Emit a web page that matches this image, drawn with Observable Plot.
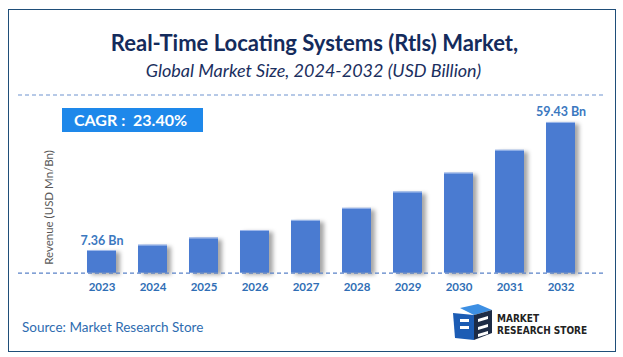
<!DOCTYPE html>
<html><head><meta charset="utf-8">
<script src="https://cdn.jsdelivr.net/npm/d3@7"></script>
<script src="https://cdn.jsdelivr.net/npm/@observablehq/plot@0.6"></script>
<style>
body{margin:0;background:#fff;font-family:Lato,"Open Sans",sans-serif;}
#wrap{position:relative;width:623px;height:357px;overflow:hidden;background:#fff;}
#frame{position:absolute;left:8px;top:9px;width:608px;height:343px;box-sizing:border-box;border:1.5px solid #1f4e79;}
#title{position:absolute;left:3px;width:623px;top:31px;text-align:center;font-size:22px;line-height:24px;font-weight:bold;color:#142b5c;}
#subtitle{position:absolute;left:2px;width:623px;top:59px;text-align:center;font-size:18px;line-height:22px;font-style:italic;color:#1b2f60;}
#cagr{position:absolute;left:62px;top:108px;width:141px;height:24px;background:#1e88ea;color:#fff;font-weight:bold;font-size:16px;line-height:24px;box-sizing:border-box;padding-left:12px;white-space:pre;}
#chart{position:absolute;left:0;top:90px;}
#source{position:absolute;left:22px;top:318px;font-size:13.5px;line-height:18px;color:#2e6cb0;}
#logo{position:absolute;left:450px;top:303px;}
</style></head><body>
<div id="wrap">
  <div id="frame"></div>
  <div id="title">Real-Time Locating Systems (Rtls) Market,</div>
  <div id="subtitle">Global Market Size, 2024-2032 (USD Billion)</div>
  <div id="chart"></div>
  <div id="cagr">CAGR :  23.40%</div>
  <div id="source">Source: Market Research Store</div>
  <div id="logo">
    <svg width="150" height="42" viewBox="0 0 150 42">
      <polygon points="10,5 28,1 42,7 24,12" fill="#3d8fe3"/>
      <polygon points="3,10 24,12 24,37 5,35" fill="#1c5cb4"/>
      <polygon points="24,12 42,7 42,30 24,37" fill="#1d2b45"/>
      <polygon points="10,16 19,16 19,19 10,19" fill="#fff"/>
      <polygon points="10,23 19,23 19,26 10,26" fill="#fff"/>
      <polygon points="28,16 38,13 38,16 28,19" fill="#fff"/>
      <polygon points="28,24 38,21 38,24 28,27" fill="#fff"/>
      <polygon points="28,31 38,28 38,31 28,34" fill="#fff"/>
      <text x="47" y="19" font-family="'DejaVu Sans Condensed','DejaVu Sans',sans-serif" font-weight="bold" font-size="10" fill="#222">MARKET</text>
      <text x="47" y="31" font-family="'DejaVu Sans Condensed','DejaVu Sans',sans-serif" font-weight="bold" font-size="10" fill="#222">RESEARCH STORE</text>
    </svg>
  </div>
</div>
<script>
const years = ["2023","2024","2025","2026","2027","2028","2029","2030","2031","2032"];
const revenue = [7.36, 9.5, 12.4, 15.5, 19.6, 24.5, 31.1, 38.8, 48.1, 59.43];
const valueLabels = ["7.36 Bn","","","","","","","","","59.43 Bn"];
const axisTitle = "Revenue (USD Mn/Bn)";
const yFloor = -1.87, yTop = 70.6;

const data = years.map((year, i) => ({year, value: revenue[i], label: valueLabels[i]}));

const chart = Plot.plot({
  width: 623,
  height: 215,
  marginLeft: 62.6,
  marginRight: 23.7,
  marginTop: 4.5,
  marginBottom: 32.3,
  style: {fontFamily: "Lato, 'Open Sans', sans-serif", color: "#2f6eb5", background: "transparent"},
  x: {type: "band", domain: years, padding: 0.436, tickSize: 0, tickPadding: 10, label: null},
  y: {domain: [yFloor, yTop], axis: null},
  marks: [
    Plot.ruleY([yTop], {stroke: "#6f93cf", strokeWidth: 1.2, strokeDasharray: "4,3", insetLeft: -44.6, insetRight: -4.7}),
    Plot.barY(data, {x: "year", y1: yFloor, y2: "value", fill: "#4a7bd1"}),
    Plot.tickY(data, {x: "year", y: "value", stroke: "#9db8ea", strokeWidth: 1}),
    Plot.ruleY([yFloor], {stroke: "#5a82c8", strokeWidth: 1.2, strokeDasharray: "4,3", insetLeft: -44.6, insetRight: -4.7}),
    Plot.text(data.filter(d => d.label), {x: "year", y: "value", text: "label", dy: -6, lineAnchor: "bottom", fill: "#3b78bf", fontWeight: "bold", fontSize: 12.5}),
    Plot.text([axisTitle], {frameAnchor: "left", textAnchor: "middle", rotate: -90, dx: -13.6, dy: 23.4, fill: "#595959", fontSize: 11.5, fontWeight: "normal"})
  ]
});
document.getElementById("chart").appendChild(chart);
d3.select(chart).selectAll('g[aria-label="x-axis tick label"], g[aria-label="x-axis"]')
  .attr("font-weight", "bold").attr("font-size", 11.5);
d3.select(chart).selectAll('g[aria-label="bar"]').style("filter", "drop-shadow(4px 2px 2px rgba(0,0,0,0.35))");
</script>
</body></html>
